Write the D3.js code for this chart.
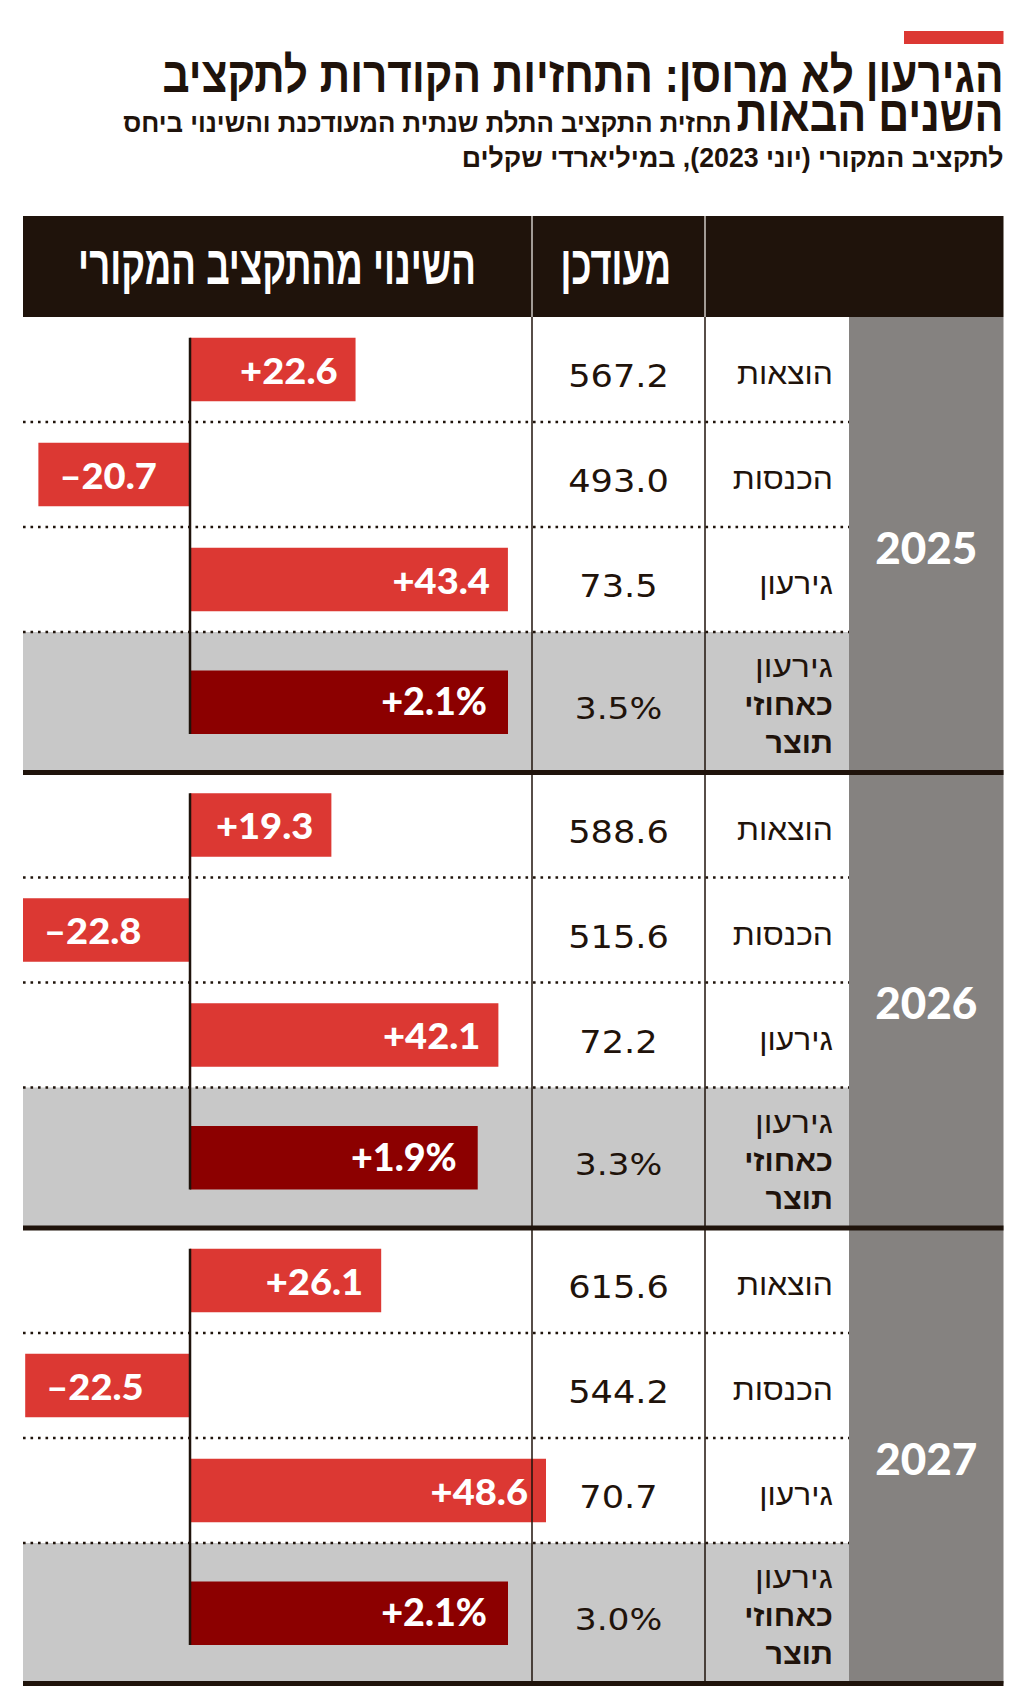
<!DOCTYPE html>
<html><head><meta charset="utf-8">
<script src="https://cdn.jsdelivr.net/npm/d3@7"></script>
<style>body{margin:0;background:#fff} svg{display:block}</style>
</head><body>
<svg id="chart" width="1024" height="1704"></svg>
<script>
// ---------- DATA ----------
const years = ["2025", "2026", "2027"];
const rowLabels = [["הוצאות"], ["הכנסות"], ["גירעון"], ["גירעון", "כאחוזי", "תוצר"]];
const updated = [[567.2, 493.0, 73.5], [588.6, 515.6, 72.2], [615.6, 544.2, 70.7]];
const updatedPct = [3.5, 3.3, 3.0];
const change = [[22.6, -20.7, 43.4], [19.3, -22.8, 42.1], [26.1, -22.5, 48.6]];
const changePct = [2.1, 1.9, 2.1];
const titleLines = ["הגירעון לא מרוסן: התחזיות הקודרות לתקציב", "השנים הבאות"];
const subtitleLines = ["תחזית התקציב התלת שנתית המעודכנת והשינוי ביחס", "לתקציב המקורי (יוני 2023), במיליארדי שקלים"];
const headers = ["השינוי מהתקציב המקורי", "מעודכן"];

// ---------- LAYOUT / STYLE ----------
const DARK = "#1f130b", RED = "#dc3833", DRED = "#8c0000", GCOL = "#858280", GROW = "#c8c8c8";
const HEB = "'Liberation Sans','DejaVu Sans',sans-serif";
const NUM = "'DejaVu Sans',sans-serif";
const BARF = "Lato,'DejaVu Sans',sans-serif";
const L = 23, R = 1003.5, DIV1 = 532, DIV2 = 705, GX = 849;
const HEAD_T = 216, HEAD_B = 317, BOTTOM = 1683.5;
const rowH = [105, 105, 105, 140.5];
const rowOff = [0, 105, 210, 315, 455.5];
const BAR_H = 63.5;

const svg = d3.select("#chart");

// text helper: horizontal scaling through a transform
function txt(parent, o) {
  return parent.append("text")
    .attr("transform", `translate(${o.x},${o.y}) scale(${o.sx || 1},1)`)
    .attr("text-anchor", o.anchor || "end")
    .attr("font-family", o.family || HEB)
    .attr("font-weight", o.weight || 400)
    .attr("font-size", o.size)
    .attr("fill", o.fill || DARK)
    .text(o.text);
}

// scales
const yBlock = d3.scaleLinear().domain([0, years.length]).range([HEAD_B, BOTTOM]);
const x = d3.scaleLinear().domain(d3.extent(change.flat())).range([L, 546]);
const xp = d3.scaleLinear().domain([0, d3.max(changePct)]).range([x(0), 508]);

// ---------- TITLE ----------
svg.append("rect").attr("x", 904).attr("y", 31).attr("width", 99.5).attr("height", 13).attr("fill", RED);
txt(svg, {x: R, y: 92, size: 50, weight: 700, sx: 0.847, text: titleLines[0]});
const t2 = txt(svg, {x: R, y: 131, size: 50, weight: 700, sx: 0.86, text: titleLines[1]});
const t2w = t2.node().getComputedTextLength() * 0.86;
txt(svg, {x: R - t2w - 5, y: 132, size: 27, weight: 700, sx: 0.955, text: subtitleLines[0]});
txt(svg, {x: R, y: 167, size: 27, weight: 700, sx: 0.99, text: subtitleLines[1]});

// ---------- HEADER ----------
svg.append("rect").attr("x", L).attr("y", HEAD_T).attr("width", R - L).attr("height", HEAD_B - HEAD_T).attr("fill", DARK);
[DIV1, DIV2].forEach(d => svg.append("line").attr("x1", d).attr("x2", d).attr("y1", HEAD_T).attr("y2", HEAD_B)
  .attr("stroke", "#cfcac6").attr("stroke-width", 1.5));
txt(svg, {x: 476, y: 284, size: 55, weight: 700, sx: 0.665, fill: "#fff", text: headers[0]});
txt(svg, {x: 671, y: 284, size: 55, weight: 700, sx: 0.66, fill: "#fff", text: headers[1]});

// ---------- BODY ----------
svg.append("rect").attr("x", GX).attr("y", HEAD_B).attr("width", R - GX).attr("height", BOTTOM - HEAD_B).attr("fill", GCOL);

const blocks = svg.selectAll("g.block").data(years).join("g").attr("class", "block")
  .attr("transform", (d, i) => `translate(0,${yBlock(i)})`);

// gray percentage row
blocks.append("rect").attr("x", L).attr("y", rowOff[3]).attr("width", GX - L).attr("height", rowH[3]).attr("fill", GROW);

// vertical dividers
[DIV1, DIV2].forEach(d => svg.append("line").attr("x1", d).attr("x2", d).attr("y1", HEAD_B).attr("y2", BOTTOM)
  .attr("stroke", DARK).attr("stroke-width", 1.5));

// dotted row separators
blocks.each(function () {
  const g = d3.select(this);
  [1, 2, 3].forEach(k => g.append("line").attr("x1", L).attr("x2", GX).attr("y1", rowOff[k]).attr("y2", rowOff[k])
    .attr("stroke", DARK).attr("stroke-width", 2.6).attr("stroke-dasharray", "2.6 4.9"));
});

const fmtChg = v => (v > 0 ? "+" : "–") + Math.abs(v).toFixed(1);

blocks.each(function (yr, i) {
  const g = d3.select(this);
  change[i].forEach((v, k) => {
    const cy = rowOff[k] + rowH[k] / 2;
    g.append("rect").attr("x", Math.min(x(0), x(v))).attr("y", cy - BAR_H / 2)
      .attr("width", Math.abs(x(v) - x(0))).attr("height", BAR_H).attr("fill", RED);
    txt(g, {x: v > 0 ? x(v) - 18 : x(v) + 21, y: cy + 14, anchor: v > 0 ? "end" : "start",
      family: BARF, weight: 900, size: 37, fill: "#fff", sx: 1.03, text: fmtChg(v)});
    txt(g, {x: (DIV1 + DIV2) / 2, y: cy + 17.5, anchor: "middle", family: NUM, size: 32, sx: 1.1,
      text: updated[i][k].toFixed(1)});
    txt(g, {x: 833, y: cy + 14.5, size: 30, sx: 1.06, text: rowLabels[k][0]});
  });
  // percent bar
  const pc = rowOff[3] + rowH[3] / 2;
  const pv = changePct[i];
  g.append("rect").attr("x", x(0)).attr("y", pc - BAR_H / 2).attr("width", xp(pv) - xp(0)).attr("height", BAR_H).attr("fill", DRED);
  txt(g, {x: xp(pv) - 21, y: pc + 13, family: BARF, weight: 900, size: 37, fill: "#fff", sx: 1.02,
    text: "+" + pv.toFixed(1) + "%"});
  txt(g, {x: (DIV1 + DIV2) / 2, y: pc + 17, anchor: "middle", family: NUM, size: 30, sx: 1.15,
    text: updatedPct[i].toFixed(1) + "%"});
  rowLabels[3].forEach((lbl, j) => {
    txt(g, {x: 833, y: pc - 25 + j * 38, size: 30, weight: j === 0 ? 400 : 700, sx: j === 0 ? 1.12 : 1.02, text: lbl});
  });
  // zero line
  g.append("line").attr("x1", x(0)).attr("x2", x(0))
    .attr("y1", rowOff[0] + rowH[0] / 2 - BAR_H / 2).attr("y2", pc + BAR_H / 2)
    .attr("stroke", DARK).attr("stroke-width", 2.5);
  // year label
  txt(g, {x: (GX + R) / 2, y: rowOff[4] / 2 + 19, anchor: "middle", family: BARF, weight: 900, size: 44,
    fill: "#fff", text: yr});
});

// thick block separators
d3.range(1, years.length + 1).forEach(i => svg.append("rect").attr("x", L).attr("y", yBlock(i) - 2.5)
  .attr("width", R - L).attr("height", 5).attr("fill", DARK));
</script>
</body></html>
